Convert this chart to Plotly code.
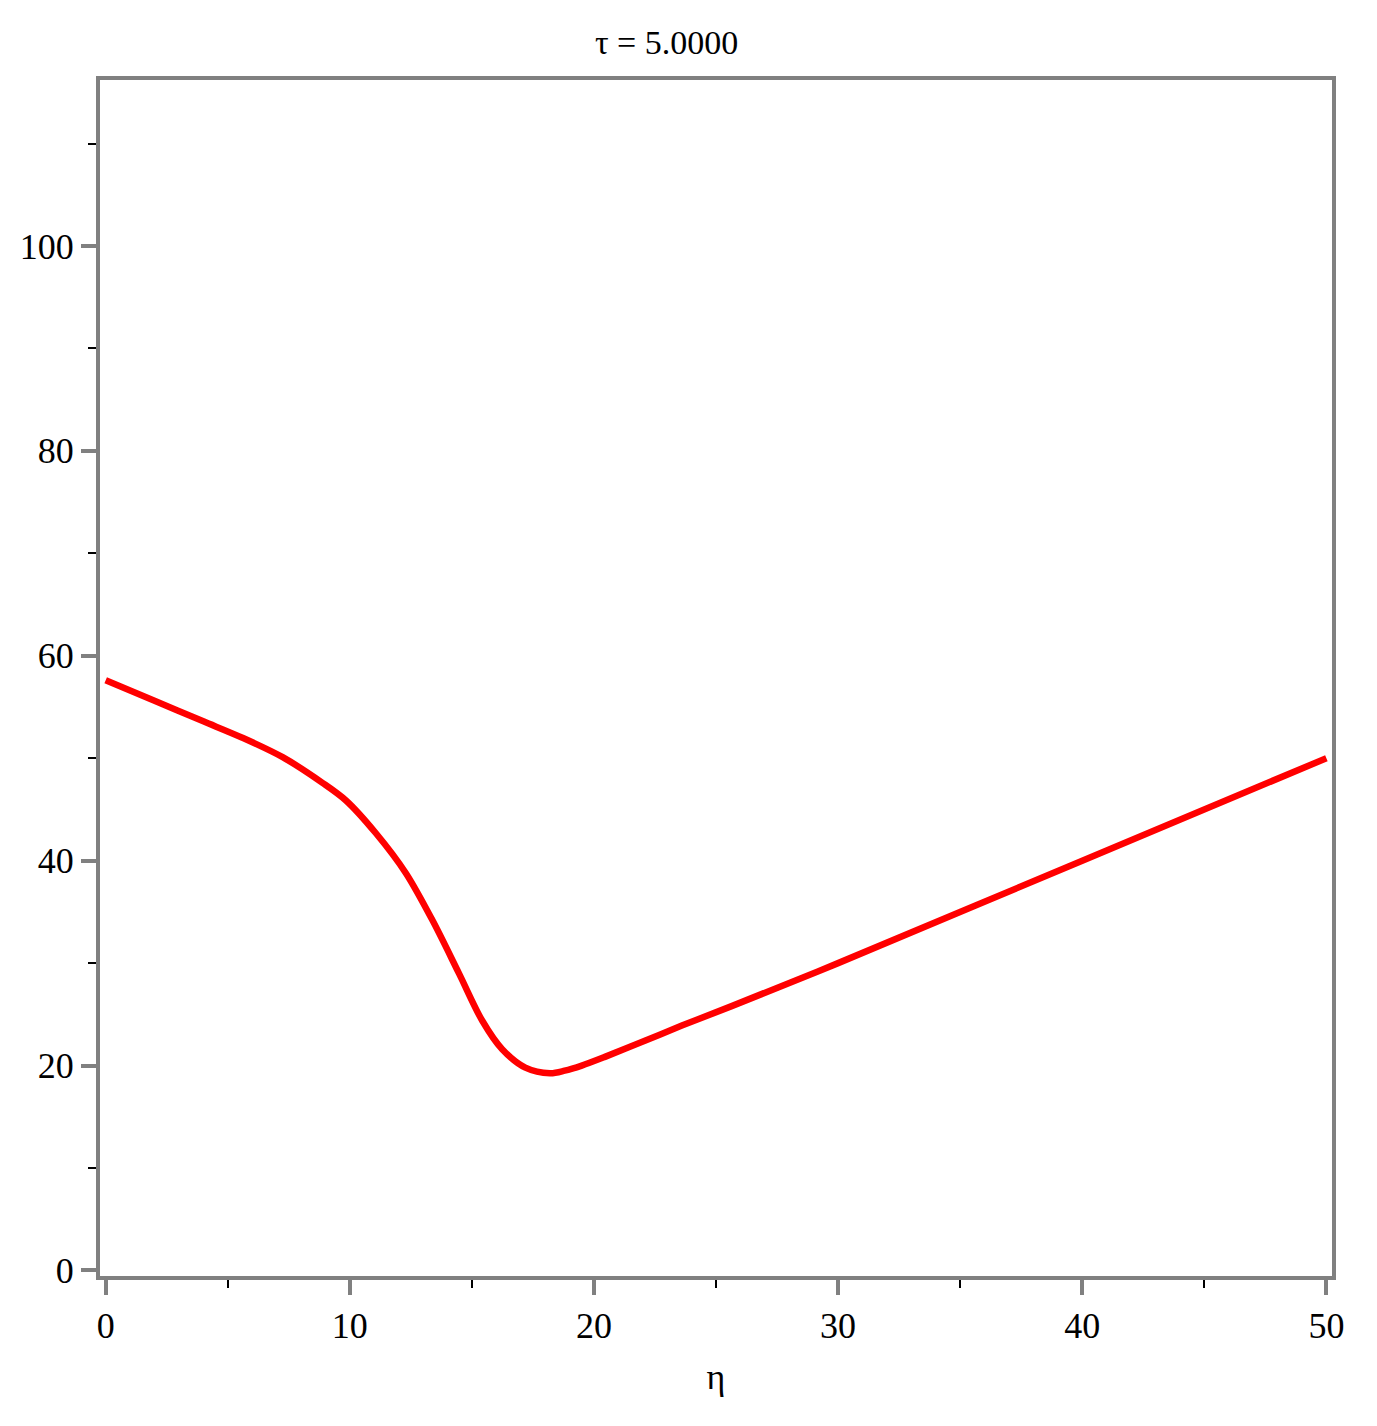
import plotly.graph_objects as go

eta = [0, 2, 4, 5.6, 7.25, 8.88, 9.83, 11.06, 12.29, 13.38, 14.47, 15.42, 16.24,
       17.19, 18.2, 18.8, 19.5, 20.5, 21.55, 23.6, 25.64, 30, 40, 50]
u = [57.6, 55.6, 53.6, 52.0, 50.1, 47.6, 45.9, 42.7, 38.8, 34.2, 29.0, 24.4, 21.6,
     19.8, 19.25, 19.5, 20.0, 20.9, 21.9, 23.9, 25.8, 30.0, 40.0, 50.0]

x_ticks = [0, 10, 20, 30, 40, 50]
y_ticks = [0, 20, 40, 60, 80, 100]
title_text = "τ = 5.0000"
x_label = "η"

FONT = "Liberation Serif"
GRAY = "#808080"

# page body has an 8px default margin: shift everything by -8
L, T, PW, PH = 97 - 8, 80 - 8, 1235, 1196
W, H = 1377, 1426

fig = go.Figure()
fig.add_trace(go.Scatter(x=eta, y=u, mode="lines",
                         line=dict(color="#ff0000", width=6.5, shape="spline", smoothing=0.9),
                         showlegend=False))

fig.update_layout(
    width=W, height=H,
    margin=dict(l=L, r=W - L - PW, t=T, b=H - T - PH),
    paper_bgcolor="white", plot_bgcolor="white",
    font=dict(family=FONT, size=36, color="black"),
    title=dict(text=title_text, x=(665 - 97) / 1235, xref="paper", xanchor="center",
               y=1 - (42 - 8) / H, yref="container", yanchor="middle",
               font=dict(family=FONT, size=34, color="black")),
)

fig.update_xaxes(range=[-0.233, 50.23], tickvals=x_ticks, ticktext=[str(v) for v in x_ticks],
                 showgrid=False, zeroline=False, showline=True, linecolor=GRAY, linewidth=4,
                 mirror=True, ticks="outside", ticklen=15, tickwidth=4, tickcolor=GRAY,
                 tickfont=dict(family=FONT, size=36),
                 minor=dict(tickvals=[5, 15, 25, 35, 45], ticks="outside", ticklen=8,
                            tickwidth=2, tickcolor="black"),
                 title=dict(text=x_label, font=dict(family=FONT, size=36), standoff=20))

fig.update_yaxes(range=[-0.54, 116.2], tickvals=y_ticks, ticktext=[str(v) for v in y_ticks],
                 showgrid=False, zeroline=False, showline=True, linecolor=GRAY, linewidth=4,
                 mirror=True, ticks="outside", ticklen=15, tickwidth=4, tickcolor=GRAY,
                 tickfont=dict(family=FONT, size=36),
                 minor=dict(tickvals=[10, 30, 50, 70, 90, 110], ticks="outside", ticklen=8,
                            tickwidth=2, tickcolor="black"))

fig.write_html("out.html")
